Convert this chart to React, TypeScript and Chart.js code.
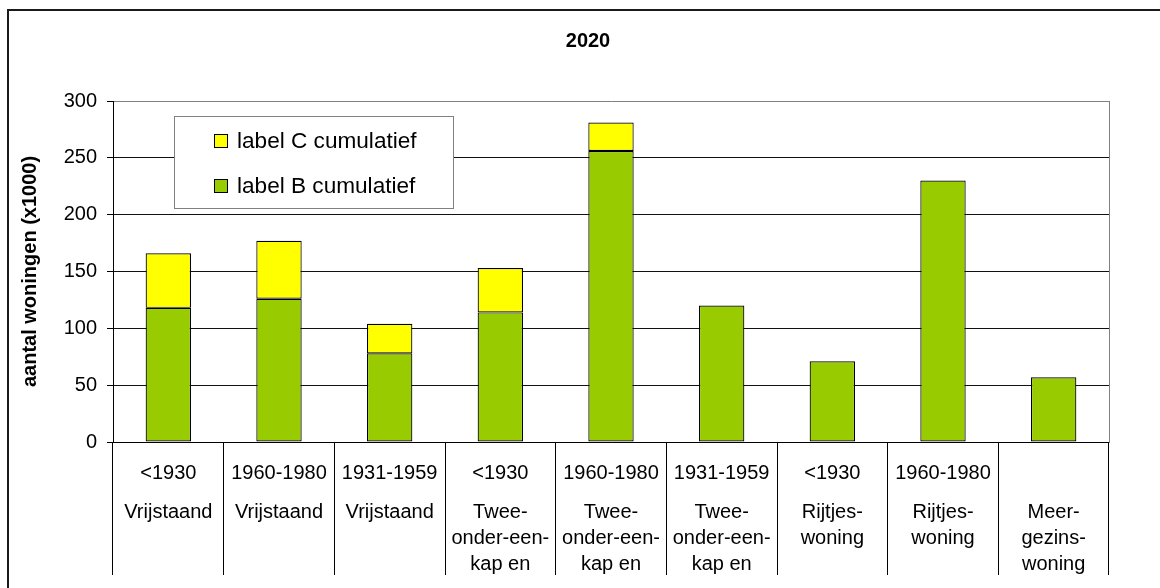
import { useEffect, useRef } from "react";
import { Chart, registerables } from "chart.js";

Chart.register(...registerables);

const chartTitle = "2020";
const yAxisTitle = "aantal woningen (x1000)";
const yearLabels = ["<1930", "1960-1980", "1931-1959", "<1930", "1960-1980", "1931-1959", "<1930", "1960-1980", ""];
const typeLabels = [
  ["Vrijstaand"],
  ["Vrijstaand"],
  ["Vrijstaand"],
  ["Twee-", "onder-een-", "kap en"],
  ["Twee-", "onder-een-", "kap en"],
  ["Twee-", "onder-een-", "kap en"],
  ["Rijtjes-", "woning"],
  ["Rijtjes-", "woning"],
  ["Meer-", "gezins-", "woning"],
];
const labelBCumulatief = [118, 126, 78, 114, 256, 120, 71, 230, 57];
const labelCCumulatief = [166, 177, 104, 153, 281, 120, 71, 230, 57];
const yTicks = [0, 50, 100, 150, 200, 250, 300];
const seriesNames = ["label B cumulatief", "label C cumulatief"];
const seriesColors = ["#99CC00", "#FFFF00"];

const FONT = "'Liberation Sans', Arial, Helvetica, sans-serif";

// build multi-line category labels (blank lines act as spacers)
const categoryLabels = yearLabels.map((y, i) => {
  const lines = [y, "", ""];
  typeLabels[i].forEach((t, j) => {
    if (j > 0) lines.push("");
    lines.push(t);
  });
  return lines;
});

const framePlugin = {
  id: "frame",
  beforeDraw(chart: any) {
    const ctx = chart.ctx;
    ctx.save();
    ctx.fillStyle = "#ffffff";
    ctx.fillRect(0, 0, chart.width, chart.height);
    ctx.fillStyle = "#1a1a1a";
    ctx.fillRect(7, 9, 2, chart.height - 9);
    ctx.fillRect(7, 9, chart.width - 7, 2);
    ctx.restore();
  },
};

const boxLegendPlugin = {
  id: "boxLegend",
  afterDraw(chart: any) {
    const ctx = chart.ctx;
    const x = 174, y = 116, w = 279, h = 92;
    ctx.save();
    ctx.fillStyle = "#ffffff";
    ctx.fillRect(x, y, w, h);
    ctx.strokeStyle = "#808080";
    ctx.lineWidth = 1;
    ctx.strokeRect(x + 0.5, y + 0.5, w, h);
    const items = chart.data.datasets.slice().reverse();
    items.forEach((ds: any, i: number) => {
      const cy = 141 + i * 45;
      ctx.fillStyle = ds.backgroundColor;
      ctx.fillRect(214, cy - 7, 14, 14);
      ctx.strokeStyle = "#000";
      ctx.strokeRect(214.5, cy - 6.5, 13, 13);
      ctx.fillStyle = "#000";
      ctx.font = `22.6px ${FONT}`;
      ctx.textBaseline = "middle";
      ctx.textAlign = "left";
      ctx.fillText(ds.label, 237, cy + 1);
    });
    ctx.restore();
  },
};

export default function App() {
  const ref = useRef<HTMLCanvasElement | null>(null);

  useEffect(() => {
    if (!ref.current) return;
    const chart = new Chart(ref.current, {
      type: "bar",
      data: {
        labels: categoryLabels,
        datasets: [
          {
            label: seriesNames[0],
            data: labelBCumulatief,
            backgroundColor: seriesColors[0],
            borderColor: "#000",
            borderWidth: 1.2,
            borderSkipped: false,
            barPercentage: 0.41,
            categoryPercentage: 1,
          },
          {
            label: seriesNames[1],
            data: labelCCumulatief.map((c, i) => (c - labelBCumulatief[i]) || null),
            backgroundColor: seriesColors[1],
            borderColor: "#000",
            borderWidth: 1.2,
            borderSkipped: false,
            barPercentage: 0.41,
            categoryPercentage: 1,
          },
        ],
      },
      options: {
        responsive: false,
        animation: false,
        devicePixelRatio: 1,
        layout: { padding: { left: 16, right: 0, top: 0, bottom: 0 } },
        plugins: {
          legend: { display: false },
          tooltip: { enabled: false },
          title: {
            display: true,
            text: chartTitle,
            color: "#000",
            font: { family: FONT, size: 20, weight: "bold", lineHeight: 1.2 },
            padding: { top: 29, bottom: 48 },
          },
        },
        scales: {
          x: {
            stacked: true,
            offset: true,
            grid: {
              offset: true,
              drawOnChartArea: false,
              drawTicks: true,
              tickLength: 133,
              color: "#000",
              lineWidth: 1,
            },
            border: { display: true, color: "#000", width: 1 },
            ticks: {
              autoSkip: false,
              maxRotation: 0,
              minRotation: 0,
              padding: -108.5,
              color: "#000",
              font: { family: FONT, size: 20, lineHeight: 0.65 },
            },
            afterFit: (s: any) => {
              s.height = 146;
            },
          },
          y: {
            stacked: true,
            min: 0,
            max: 300,
            afterBuildTicks: (s: any) => {
              s.ticks = yTicks.map((v) => ({ value: v }));
            },
            grid: {
              color: (c: any) => (c.tick && c.tick.value === 300 ? "#808080" : "#111"),
              tickColor: "#000",
              tickLength: 6,
              lineWidth: 1,
            },
            border: { display: true, color: "#000", width: 1 },
            ticks: {
              padding: 10,
              color: "#000",
              font: { family: FONT, size: 20 },
            },
            title: {
              display: true,
              text: yAxisTitle,
              color: "#000",
              font: { family: FONT, size: 20, weight: "bold", lineHeight: 1.2 },
              padding: { top: 2, bottom: 0 },
            },
            afterFit: (s: any) => {
              s.width = 97;
            },
          },
          yRight: {
            type: "linear",
            position: "right",
            min: 0,
            max: 300,
            grid: { display: false, drawOnChartArea: false, drawTicks: false },
            border: { display: true, color: "#808080", width: 1 },
            ticks: { display: false },
            afterFit: (s: any) => {
              s.width = 51;
            },
          },
        },
      } as any,
      plugins: [framePlugin, boxLegendPlugin],
    });
    return () => chart.destroy();
  }, []);

  return (
    <div style={{ position: "absolute", left: 0, top: 0, width: 1160, height: 588 }}>
      <canvas ref={ref} width={1160} height={588} style={{ display: "block", width: 1160, height: 588 }} />
    </div>
  );
}
